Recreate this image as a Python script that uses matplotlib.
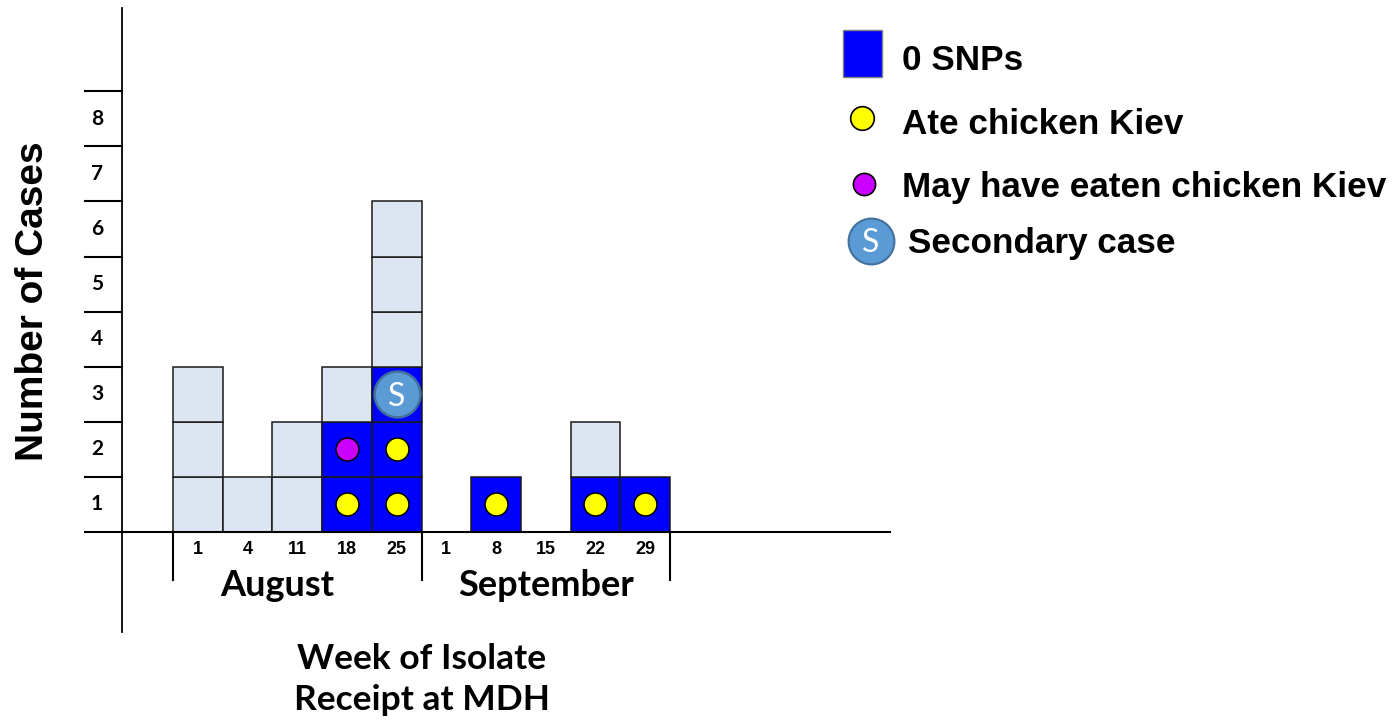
import matplotlib.pyplot as plt
from matplotlib.patches import Rectangle
from matplotlib.transforms import Affine2D

# week-of-receipt columns (day of month) and the month each group belongs to
weeks = ['1', '4', '11', '18', '25', '1', '8', '15', '22', '29']
months = ['August', 'September']
weeks_per_month = [5, 5]

# cases per week, bottom up: 0 SNP isolates (blue, with exposure marker) then the others
snp0_cases = [[], [], [], ['ate', 'maybe'], ['ate', 'ate', 'secondary'],
              [], ['ate'], [], ['ate'], ['ate']]
other_cases = [3, 1, 2, 1, 3, 0, 0, 0, 1, 0]
y_ticks = [1, 2, 3, 4, 5, 6, 7, 8]

legend_labels = ['0 SNPs', 'Ate chicken Kiev', 'May have eaten chicken Kiev', 'Secondary case']

LIGHT = '#dce6f2'
BLUE = '#0000ff'
YELLOW = '#ffff00'
MAGENTA = '#cc00ff'
SEC = '#5b9bd5'
SEC_EDGE = '#41719c'

W, H = 1393, 720
X0, Y0, DX, DY = 173, 532, 49.7, 55.1   # pixel origin and pixel size of one week / one case

calibri = ['Lato', 'DejaVu Sans']
arial = ['Liberation Sans', 'DejaVu Sans']

fig = plt.figure(figsize=(W / 100, H / 100), dpi=100)
ax = fig.add_axes([0, 0, 1, 1])
ax.axis('off')
ax.set_xlim(-X0 / DX, (W - X0) / DX)
ax.set_ylim(-(H - Y0) / DY, Y0 / DY)
pix = Affine2D().scale(1, -1).translate(0, H)   # image pixel coords, y down

# axes drawn by hand, slide style
ax.plot([122, 122], [8, 632], color='black', lw=1.3, transform=pix)
ax.plot([85, 890], [Y0, Y0], color='black', lw=1.5, transform=pix)
for t in y_ticks:
    ax.plot([-1.771, -1.026], [t, t], color='black', lw=1.5)
    ax.text(-1.53, t - 0.5, str(t), ha='center', va='center', fontsize=15,
            fontweight='bold', family=calibri)

# month brackets
start = 0
for m, n in zip(months, weeks_per_month):
    ax.plot([start, start], [0, -0.87], color='black', lw=1.5)
    ax.text(start + n / 2 - 0.4 + (0.4 if m == 'September' else 0), -0.97, m,
            ha='center', va='center', fontsize=26, fontweight='bold', family=calibri)
    start += n
ax.plot([start, start], [0, -0.87], color='black', lw=1.5)

# stacked case cells
marker_color = {'ate': YELLOW, 'maybe': MAGENTA}
for i, wk in enumerate(weeks):
    ax.text(i + 0.5, -0.32, wk, ha='center', va='center', fontsize=13,
            fontweight='bold', family=arial)
    j = 0
    for kind in snp0_cases[i]:
        ax.add_patch(Rectangle((i, j), 1, 1, fc=BLUE, ec='#1a1a1a', lw=1.1))
        if kind == 'secondary':
            ax.plot(i + 0.5, j + 0.5, 'o', ms=33, mfc=SEC, mec=SEC_EDGE, mew=1.8)
            ax.text(i + 0.5, j + 0.45, 'S', ha='center', va='center', color='white',
                    fontsize=23, family=calibri)
        else:
            ax.plot(i + 0.5, j + 0.5, 'o', ms=16.5, mfc=marker_color[kind],
                    mec='black', mew=1.1)
        j += 1
    for _ in range(other_cases[i]):
        ax.add_patch(Rectangle((i, j), 1, 1, fc=LIGHT, ec='#1a1a1a', lw=1.1))
        j += 1

# axis titles
ax.text(33, 301, 'Number of Cases', rotation=90, ha='center', va='center',
        fontsize=28, fontweight='bold', family=arial, transform=pix)
ax.text(422, 659, 'Week of Isolate', ha='center', va='center', fontsize=25.5,
        fontweight='bold', family=calibri, transform=pix)
ax.text(422, 700, 'Receipt at MDH', ha='center', va='center', fontsize=25.5,
        fontweight='bold', family=calibri, transform=pix)

# legend
ax.add_patch(Rectangle((843, 30), 39, 47, fc=BLUE, ec='#7f7f7f', lw=1, transform=pix))
ax.plot(862, 118, 'o', ms=17, mfc=YELLOW, mec='black', mew=1.2, transform=pix)
ax.plot(864, 184, 'o', ms=16, mfc=MAGENTA, mec='black', mew=1.2, transform=pix)
ax.plot(871, 241, 'o', ms=33, mfc=SEC, mec=SEC_EDGE, mew=1.5, transform=pix)
ax.text(871, 243, 'S', ha='center', va='center', color='white', fontsize=23,
        family=calibri, transform=pix)
for lab, (x, y) in zip(legend_labels, [(902, 60), (902, 124), (902, 187), (908, 243)]):
    ax.text(x, y, lab, ha='left', va='center', fontsize=25.3, fontweight='bold',
            family=arial, transform=pix)

fig.savefig('out.png', dpi=100)
